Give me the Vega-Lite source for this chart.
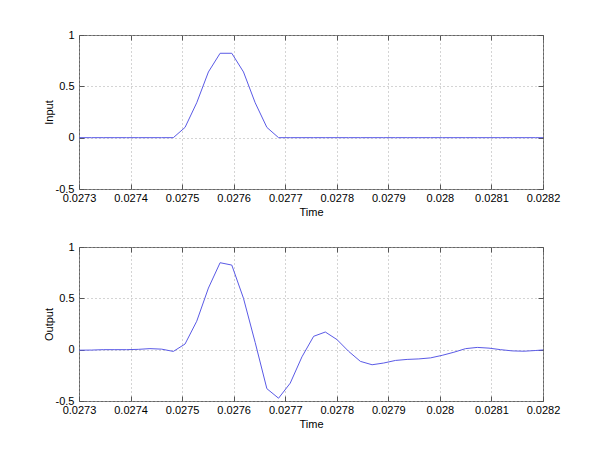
{
  "$schema": "https://vega.github.io/schema/vega-lite/v6.json",
  "padding": {"left": 42, "top": 28, "right": 0, "bottom": 0},
  "background": "white",
  "datasets": {
    "sig": [
      {"t": 0.02727891, "input": 0, "output": -0.005},
      {"t": 0.02730159, "input": 0, "output": -0.005},
      {"t": 0.02732426, "input": 0, "output": -0.004},
      {"t": 0.02734694, "input": 0, "output": 0.0},
      {"t": 0.02736961, "input": 0, "output": 0.0},
      {"t": 0.02739229, "input": 0, "output": 0.0},
      {"t": 0.02741497, "input": 0, "output": 0.003},
      {"t": 0.02743764, "input": 0, "output": 0.01},
      {"t": 0.02746032, "input": 0, "output": 0.005},
      {"t": 0.02748299, "input": 0, "output": -0.017},
      {"t": 0.02750567, "input": 0.1, "output": 0.055},
      {"t": 0.02752834, "input": 0.34, "output": 0.277},
      {"t": 0.02755102, "input": 0.64, "output": 0.6},
      {"t": 0.0275737, "input": 0.822, "output": 0.847},
      {"t": 0.02759637, "input": 0.822, "output": 0.824},
      {"t": 0.02761905, "input": 0.64, "output": 0.5},
      {"t": 0.02764172, "input": 0.34, "output": 0.07},
      {"t": 0.0276644, "input": 0.1, "output": -0.38},
      {"t": 0.02768707, "input": 0, "output": -0.473},
      {"t": 0.02770975, "input": 0, "output": -0.326},
      {"t": 0.02773243, "input": 0, "output": -0.07},
      {"t": 0.0277551, "input": 0, "output": 0.13},
      {"t": 0.02777778, "input": 0, "output": 0.172},
      {"t": 0.02780045, "input": 0, "output": 0.098},
      {"t": 0.02782313, "input": 0, "output": -0.017},
      {"t": 0.0278458, "input": 0, "output": -0.114},
      {"t": 0.02786848, "input": 0, "output": -0.147},
      {"t": 0.02789116, "input": 0, "output": -0.13},
      {"t": 0.02791383, "input": 0, "output": -0.105},
      {"t": 0.02793651, "input": 0, "output": -0.095},
      {"t": 0.02795918, "input": 0, "output": -0.09},
      {"t": 0.02798186, "input": 0, "output": -0.08},
      {"t": 0.02800454, "input": 0, "output": -0.055},
      {"t": 0.02802721, "input": 0, "output": -0.025},
      {"t": 0.02804989, "input": 0, "output": 0.01},
      {"t": 0.02807256, "input": 0, "output": 0.022},
      {"t": 0.02809524, "input": 0, "output": 0.015},
      {"t": 0.02811791, "input": 0, "output": 0.0},
      {"t": 0.02814059, "input": 0, "output": -0.012},
      {"t": 0.02816327, "input": 0, "output": -0.015},
      {"t": 0.02818594, "input": 0, "output": -0.008},
      {"t": 0.02820862, "input": 0, "output": 0.0}
    ]
  },
  "vconcat": [
    {
      "width": 464,
      "height": 154,
      "data": {"name": "sig"},
      "layer": [
        {
          "mark": {"type": "line", "color": "#5a5ae6", "strokeWidth": 1, "clip": true},
          "encoding": {
            "x": {"field": "t", "type": "quantitative",
              "scale": {"domain": [0.0273, 0.0282], "nice": false, "zero": false},
              "axis": {"orient": "bottom", "values": [0.0273, 0.0274, 0.0275, 0.0276, 0.0277, 0.0278, 0.0279, 0.028, 0.0281, 0.0282],
                "labelExpr": "'' + datum.value", "labelFlush": false, "labelOverlap": false,
                "tickSize": -5, "labelPadding": 8, "grid": true, "gridDash": [1, 3], "gridColor": "#a8a8a8",
                "domain": false, "title": "Time", "titleX": 232, "titleY": 23, "titleBaseline": "middle"}},
            "y": {"field": "input", "type": "quantitative",
              "scale": {"domain": [-0.5, 1], "nice": false, "zero": false},
              "axis": {"orient": "left", "values": [-0.5, 0, 0.5, 1], "labelExpr": "'' + datum.value",
                "tickSize": -5, "labelPadding": 10, "grid": true, "gridDash": [1, 3], "gridColor": "#a8a8a8",
                "domain": false, "title": "Input", "titleX": -30, "titleY": 77, "titleAngle": -90,
                "titleBaseline": "middle", "titleAlign": "center"}}
          }
        },
        {
          "mark": {"type": "line", "opacity": 0, "clip": true},
          "encoding": {
            "x": {"field": "t", "type": "quantitative",
              "axis": {"orient": "top", "values": [0.0273, 0.0274, 0.0275, 0.0276, 0.0277, 0.0278, 0.0279, 0.028, 0.0281, 0.0282],
                "labels": false, "tickSize": -5, "grid": false, "domain": false, "title": null}},
            "y": {"field": "input", "type": "quantitative",
              "axis": {"orient": "right", "values": [-0.5, 0, 0.5, 1], "labels": false, "tickSize": -5,
                "grid": false, "domain": false, "title": null}}
          }
        }
      ],
      "resolve": {"axis": {"x": "independent", "y": "independent"}}
    },
    {
      "width": 464,
      "height": 154,
      "data": {"name": "sig"},
      "layer": [
        {
          "mark": {"type": "line", "color": "#5a5ae6", "strokeWidth": 1, "clip": true},
          "encoding": {
            "x": {"field": "t", "type": "quantitative",
              "scale": {"domain": [0.0273, 0.0282], "nice": false, "zero": false},
              "axis": {"orient": "bottom", "values": [0.0273, 0.0274, 0.0275, 0.0276, 0.0277, 0.0278, 0.0279, 0.028, 0.0281, 0.0282],
                "labelExpr": "'' + datum.value", "labelFlush": false, "labelOverlap": false,
                "tickSize": -5, "labelPadding": 8, "grid": true, "gridDash": [1, 3], "gridColor": "#a8a8a8",
                "domain": false, "title": "Time", "titleX": 232, "titleY": 23, "titleBaseline": "middle"}},
            "y": {"field": "output", "type": "quantitative",
              "scale": {"domain": [-0.5, 1], "nice": false, "zero": false},
              "axis": {"orient": "left", "values": [-0.5, 0, 0.5, 1], "labelExpr": "'' + datum.value",
                "tickSize": -5, "labelPadding": 10, "grid": true, "gridDash": [1, 3], "gridColor": "#a8a8a8",
                "domain": false, "title": "Output", "titleX": -30, "titleY": 77, "titleAngle": -90,
                "titleBaseline": "middle", "titleAlign": "center"}}
          }
        },
        {
          "mark": {"type": "line", "opacity": 0, "clip": true},
          "encoding": {
            "x": {"field": "t", "type": "quantitative",
              "axis": {"orient": "top", "values": [0.0273, 0.0274, 0.0275, 0.0276, 0.0277, 0.0278, 0.0279, 0.028, 0.0281, 0.0282],
                "labels": false, "tickSize": -5, "grid": false, "domain": false, "title": null}},
            "y": {"field": "output", "type": "quantitative",
              "axis": {"orient": "right", "values": [-0.5, 0, 0.5, 1], "labels": false, "tickSize": -5,
                "grid": false, "domain": false, "title": null}}
          }
        }
      ],
      "resolve": {"axis": {"x": "independent", "y": "independent"}}
    }
  ],
  "spacing": 58,
  "bounds": "flush",
  "config": {
    "view": {"stroke": "#666666", "strokeWidth": 1},
    "axis": {"labelFont": "Liberation Sans", "titleFont": "Liberation Sans", "labelFontSize": 11,
      "titleFontSize": 11, "labelColor": "#000000", "titleColor": "#000000", "titleFontWeight": "normal",
      "tickColor": "#555555"}
  }
}
